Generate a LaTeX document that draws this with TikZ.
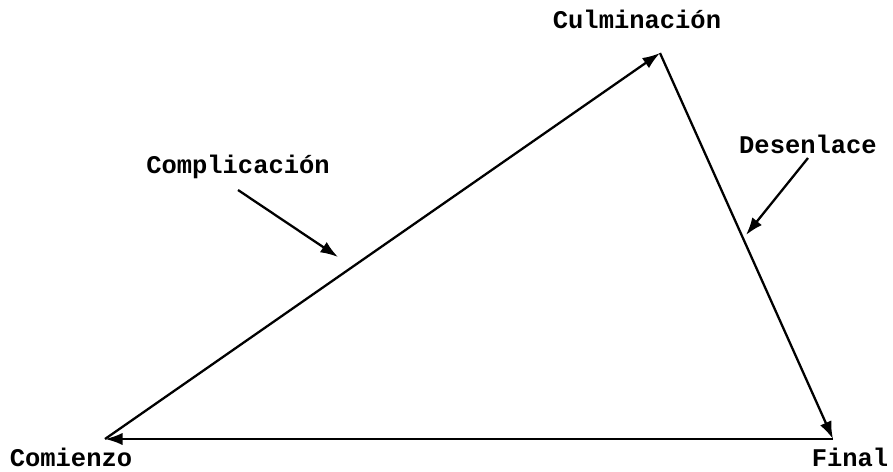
\documentclass[tikz,border=0pt]{standalone}
\usepackage{fontspec}
\setmonofont{Liberation Mono}
\usetikzlibrary{arrows.meta}
\tikzset{
  edge/.style={line width=1.3pt,-{Latex[length=10pt,width=7pt]}},
  pointer/.style={line width=1.3pt,-{Latex[length=10pt,width=7pt]}},
  tag/.style={font=\ttfamily\bfseries\fontsize{14.5}{16}\selectfont,inner sep=0pt}
}
\begin{document}
\begin{tikzpicture}[x=0.02cm,y=-0.02cm]
  \useasboundingbox (0,0) rectangle (893,471);
  % vertices
  \coordinate (start) at (105,439);
  \coordinate (peak) at (660,53);
  \coordinate (finish) at (833,439);
  \draw[edge] (start) -- (peak);
  \draw[edge] (peak) -- (finish);
  \draw[edge] (finish) -- (start);
  % labels
  \node[tag] (comienzo) at (71,457) {Comienzo};
  \node[tag] (culminacion) at (637,19) {Culminación};
  \node[tag] (final) at (850,457) {Final};
  \node[tag] (complicacion) at (238,167) {Complicación};
  \node[tag] (desenlace) at (808,144) {Desenlace};
  % pointers
  \coordinate (compl-start) at (238,190);
  \coordinate (compl-end) at (338,257);
  \coordinate (desen-start) at (808,158);
  \coordinate (desen-end) at (746,235);
  \draw[pointer] (compl-start) -- (compl-end);
  \draw[pointer] (desen-start) -- (desen-end);
\end{tikzpicture}
\end{document}
